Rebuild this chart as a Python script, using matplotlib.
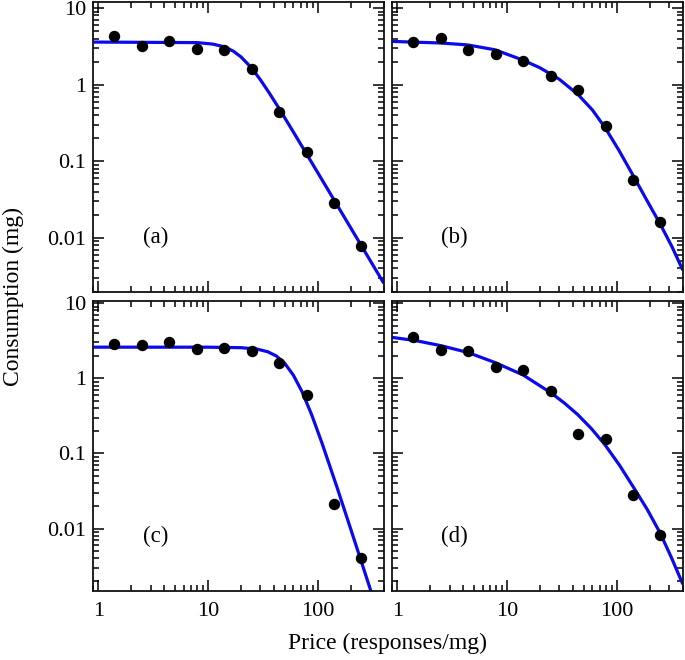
import numpy as np
import matplotlib
matplotlib.use("Agg")
import matplotlib.pyplot as plt
from matplotlib import ticker

plt.rcParams['font.family'] = ['Liberation Serif', 'DejaVu Serif']
plt.rcParams['mathtext.fontset'] = 'stix'

# ---- data ----
price = [1.4, 2.5, 4.4, 7.9, 14, 25, 44, 79, 141, 250]

cons_a = [4.38, 3.22, 3.74, 2.92, 2.86, 1.62, 0.436, 0.131, 0.0283, 0.0079]
cons_b = [3.66, 4.06, 2.80, 2.51, 2.05, 1.28, 0.86, 0.292, 0.0568, 0.0161]
cons_c = [2.83, 2.75, 3.00, 2.43, 2.56, 2.32, 1.62, 0.60, 0.021, 0.0041]
cons_d = [3.58, 2.40, 2.28, 1.42, 1.28, 0.678, 0.184, 0.156, 0.0280, 0.0082]

# fitted curves, sampled along the drawn lines
fit_a_x = [0.9, 8, 11, 14, 17, 20, 25, 30, 36, 44, 60, 100, 400]
fit_a_y = [3.6, 3.54, 3.39, 3.13, 2.74, 2.30, 1.65, 1.16, 0.787, 0.50, 0.241, 0.0712, 0.00256]

fit_b_x = [0.9, 2.5, 4.4, 7.8, 14, 20, 30, 44.5, 60, 78.7, 105, 141, 190, 250, 320, 400]
fit_b_y = [3.67, 3.50, 3.30, 2.85, 2.09, 1.66, 1.175, 0.741, 0.468, 0.272, 0.138,
           0.0653, 0.0302, 0.01503, 0.00759, 0.0038]

fit_c_x = [0.9, 10, 20, 28, 35, 42, 50, 60, 72, 88, 110, 150, 200, 260, 320]
fit_c_y = [2.6, 2.598, 2.559, 2.449, 2.26, 1.98, 1.585, 1.10, 0.662, 0.328, 0.134,
           0.0353, 0.00982, 0.00303, 0.00119]

fit_d_x = [0.9, 1.5, 2.5, 4.4, 7.8, 14, 25, 33.2, 44, 58.6, 78, 106, 144, 190, 250, 316, 400]
fit_d_y = [3.51, 3.16, 2.72, 2.21, 1.62, 1.11, 0.644, 0.471, 0.330, 0.215, 0.131,
           0.0697, 0.0344, 0.0179, 0.00859, 0.00407, 0.00182]

panel_labels = ['(a)', '(b)', '(c)', '(d)']
x_ticks = [1, 10, 100]
y_ticks = [0.01, 0.1, 1, 10]

xlim = (0.9, 400)
ylim_top = (0.002, 12)
ylim_bot = (0.0015, 10.7)

# ---- figure ----
fig = plt.figure(figsize=(6.85, 6.6), dpi=100)
W, H = 685, 660
col_left = [93.3, 392.3]
row_top = [2, 301]
aw, ah = 290.5, 289.5

panels = [
    (cons_a, fit_a_x, fit_a_y, 0, 0, ylim_top),
    (cons_b, fit_b_x, fit_b_y, 0, 1, ylim_top),
    (cons_c, fit_c_x, fit_c_y, 1, 0, ylim_bot),
    (cons_d, fit_d_x, fit_d_y, 1, 1, ylim_bot),
]

fmt = ticker.FuncFormatter(lambda v, _: f'{v:g}')

for i, (cons, fx, fy, r, c, yl) in enumerate(panels):
    ax = fig.add_axes([col_left[c] / W, 1 - (row_top[r] + ah) / H, aw / W, ah / H])
    ax.set_xscale('log')
    ax.set_yscale('log')
    ax.plot(fx, fy, color='#0a0aee', lw=2.3, solid_capstyle='butt', zorder=2)
    ax.plot(price, cons, 'o', color='black', ms=7.2, zorder=3)
    ax.set_xlim(*xlim)
    ax.set_ylim(*yl)
    ax.xaxis.set_major_locator(ticker.FixedLocator(x_ticks))
    ax.yaxis.set_major_locator(ticker.FixedLocator(y_ticks))
    ax.xaxis.set_minor_locator(ticker.LogLocator(base=10, subs=np.arange(2, 10), numticks=20))
    ax.yaxis.set_minor_locator(ticker.LogLocator(base=10, subs=np.arange(2, 10), numticks=20))
    ax.xaxis.set_major_formatter(fmt)
    ax.yaxis.set_major_formatter(fmt)
    ax.xaxis.set_minor_formatter(ticker.NullFormatter())
    ax.yaxis.set_minor_formatter(ticker.NullFormatter())
    ax.tick_params(which='both', direction='in', top=True, right=True,
                   labelsize=16, width=1.1, colors='black')
    ax.tick_params(which='major', length=8)
    ax.tick_params(which='minor', length=4.5)
    ax.tick_params(axis='x', which='major', pad=8)
    ax.tick_params(axis='y', which='major', pad=5)
    if r == 0:
        ax.tick_params(labelbottom=False)
    if c == 1:
        ax.tick_params(labelleft=False)
    for s in ax.spines.values():
        s.set_linewidth(1.3)
        s.set_color('#111111')
    ax.text(0.215, 0.185, panel_labels[i], transform=ax.transAxes,
            ha='center', va='center', fontsize=16.5)

fig.text(387.5 / W, 1 - 643 / H, 'Price (responses/mg)', ha='center', va='center', fontsize=17)
fig.text(13 / W, 1 - 297 / H, 'Consumption (mg)', ha='center', va='center',
         rotation=90, fontsize=17)

fig.savefig('out.png', dpi=100)
